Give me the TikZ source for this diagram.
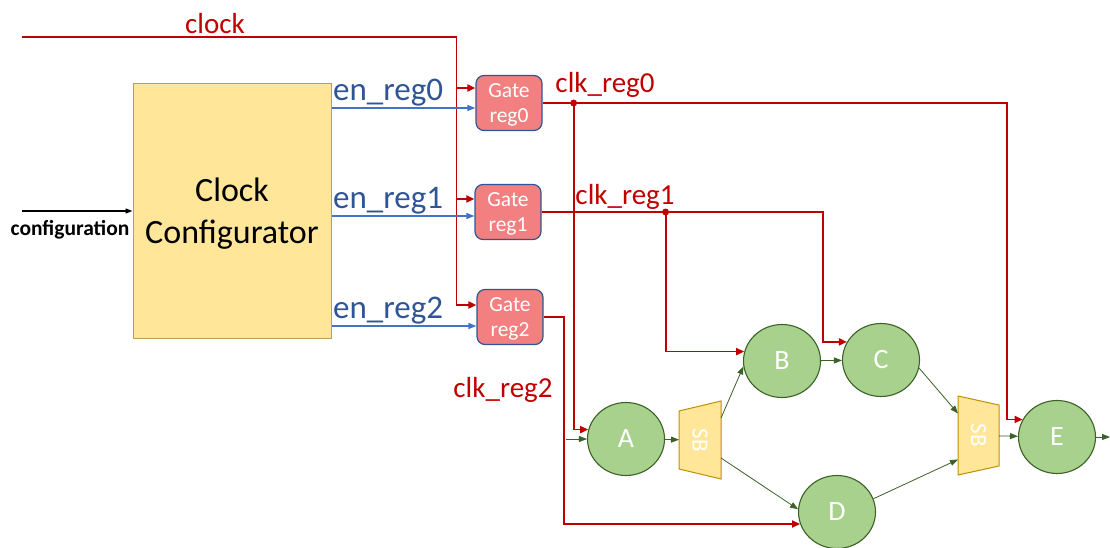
\documentclass[tikz,border=0pt]{standalone}
\usepackage{fontspec}
\setmainfont{Carlito}
\usepackage{tikz}
\usetikzlibrary{arrows.meta,calc,shapes.geometric,backgrounds}

\definecolor{cfgfill}{HTML}{FFE699}
\definecolor{cfgline}{HTML}{C49A58}
\definecolor{gatefill}{HTML}{F28080}
\definecolor{gateline}{HTML}{2F5597}
\definecolor{enline}{HTML}{4472C4}
\definecolor{entext}{HTML}{2F5597}
\definecolor{clkred}{HTML}{C00000}
\definecolor{regfill}{HTML}{A9D18E}
\definecolor{regline}{HTML}{3B6127}
\definecolor{sbline}{HTML}{BF9000}

\begin{document}
\begin{tikzpicture}[x=1pt,y=-1pt, every node/.style={inner sep=1pt},
  cfgbox/.style={draw=cfgline,fill=cfgfill,line width=1pt,minimum width=198pt,minimum height=254pt,align=center,text depth=0pt,font=\fontsize{34}{42}\selectfont},
  gate/.style={draw=gateline,fill=gatefill,line width=1.2pt,rounded corners=8pt,minimum width=66pt,minimum height=55pt,align=center,text depth=0pt,text=white,font=\fontsize{21.5}{25}\selectfont},
  reg/.style={ellipse,draw=regline,fill=regfill,line width=1.1pt,minimum width=77pt,minimum height=73pt,text=white,font=\fontsize{28}{30}\selectfont},
  sbox/.style={minimum width=42pt,minimum height=78pt,outer sep=0pt,text=white,font=\fontsize{23}{24}\selectfont},
  sbshape/.style={draw=sbline,fill=cfgfill,line width=1pt},
  clk/.style={draw=clkred,line width=1.8pt,->,>={Triangle[length=8pt,width=7pt]}},
  en/.style={draw=enline,line width=1.4pt,->,>={Triangle[length=8pt,width=6pt]}},
  flow/.style={draw=regline,line width=0.8pt,->,>={Triangle[length=8pt,width=6pt]}},
  cfgarrow/.style={draw=black,line width=1.3pt,->,>={Triangle[length=7pt,width=5pt]}},
  redtxt/.style={text=clkred,font=\fontsize{29}{30}\selectfont},
  entxt/.style={text=entext,font=\fontsize{33}{34}\selectfont}]
  \useasboundingbox (0,0) rectangle (1110,548);

  % blocks
  \node (cfg) [cfgbox] at (232,211) {Clock\\Configurator};
  \node (g0) [gate] at (509,103) {Gate\\reg0};
  \node (g1) [gate] at (508,212) {Gate\\reg1};
  \node (g2) [gate] at (510,317) {Gate\\reg2};
  \node (A) [reg] at (626,439) {A};
  \node (B) [reg] at (782,361) {B};
  \node (C) [reg] at (881,360) {C};
  \node (D) [reg] at (837,512) {D};
  \node (E) [reg] at (1057,437) {E};
  \node (sb1) [sbox] at (700,440) {\rotatebox{-90}{SB}};
  \node (sb2) [sbox,minimum width=41pt,minimum height=79pt] at (978.5,435.5) {\rotatebox{-90}{SB}};
  \begin{scope}[on background layer]
    \filldraw[sbshape] ($(sb1.north west)+(0,10)$) -- (sb1.north east) -- (sb1.south east) -- ($(sb1.south west)+(0,-10)$) -- cycle;
    \filldraw[sbshape] (sb2.north west) -- ($(sb2.north east)+(0,9)$) -- ($(sb2.south east)+(0,-9)$) -- (sb2.south west) -- cycle;
  \end{scope}

  % clock and configuration inputs
  \coordinate (clkin) at (22,37);
  \coordinate (cfgin) at (22,211);
  \draw[clk] (clkin) -| ($(g2.west)+(-20,-12)$) -- ($(g2.west)+(0,-12)$);
  \draw[clk] ($(g0.west)+(-19,-15)$) -- ($(g0.west)+(0,-15)$);
  \draw[clk] ($(g1.west)+(-18,-13)$) -- ($(g1.west)+(0,-13)$);
  \node (clklbl) [redtxt] at (215,24) {clock};
  \draw[cfgarrow] (cfgin) -- (cfg.west);
  \node (cfglbl) [font=\bfseries\fontsize{21.5}{22}\selectfont] at (70,230) {configuration};

  % enables
  \coordinate (i0) at ($(g0.west)+(0,5)$);
  \coordinate (i1) at ($(g1.west)+(0,4)$);
  \coordinate (i2) at ($(g2.west)+(0,9)$);
  \draw[en] (cfg.east |- i0) -- (i0) node[entxt,pos=0,above right] (en0) {en\_reg0};
  \draw[en] (cfg.east |- i1) -- (i1) node[entxt,pos=0,above right] (en1) {en\_reg1};
  \draw[en] (cfg.east |- i2) -- (i2) node[entxt,pos=0,above right] (en2) {en\_reg2};

  % gated clocks
  \coordinate (d0) at ($(g0.east)+(31,0)$);
  \coordinate (d1) at ($(g1.east)+(124,0)$);
  \draw[clk] (g0.east) -| ($(E.153)+(-16,0)$) -- (E.153);
  \draw[clk] (d0) |- (A.166);
  \draw[clk] (g1.east) -| ($(C.152)+(-24,0)$) -- (C.152);
  \draw[clk] (d1) |- (B.166);
  \draw[clk] (g2.east) -- ++(20,0) |- (D.198);
  \fill[clkred] (d0) circle (3.5pt) (d1) circle (3.5pt);
  \node (clk0lbl) [redtxt] at (605,85) {clk\_reg0};
  \node (clk1lbl) [redtxt] at (625,197) {clk\_reg1};
  \node (clk2lbl) [redtxt] at (503,390) {clk\_reg2};

  % datapath
  \coordinate (ain) at (566,439);
  \coordinate (eout) at (1110,437);
  \draw[flow] (ain) -- (A);
  \draw[flow] (A) -- (sb1);
  \draw[flow] ($(sb1.east)+(0,-22)$) -- (B.188);
  \draw[flow] ($(sb1.east)+(0,18)$) -- (D.176);
  \draw[flow] (B) -- (C);
  \draw[flow] (C.-12) -- ($(sb2.west)+(0,-22)$);
  \draw[flow] (D.20) -- ($(sb2.west)+(0,24)$);
  \draw[flow] (sb2) -- (E);
  \draw[flow] (E) -- (eout);
\end{tikzpicture}
\end{document}
